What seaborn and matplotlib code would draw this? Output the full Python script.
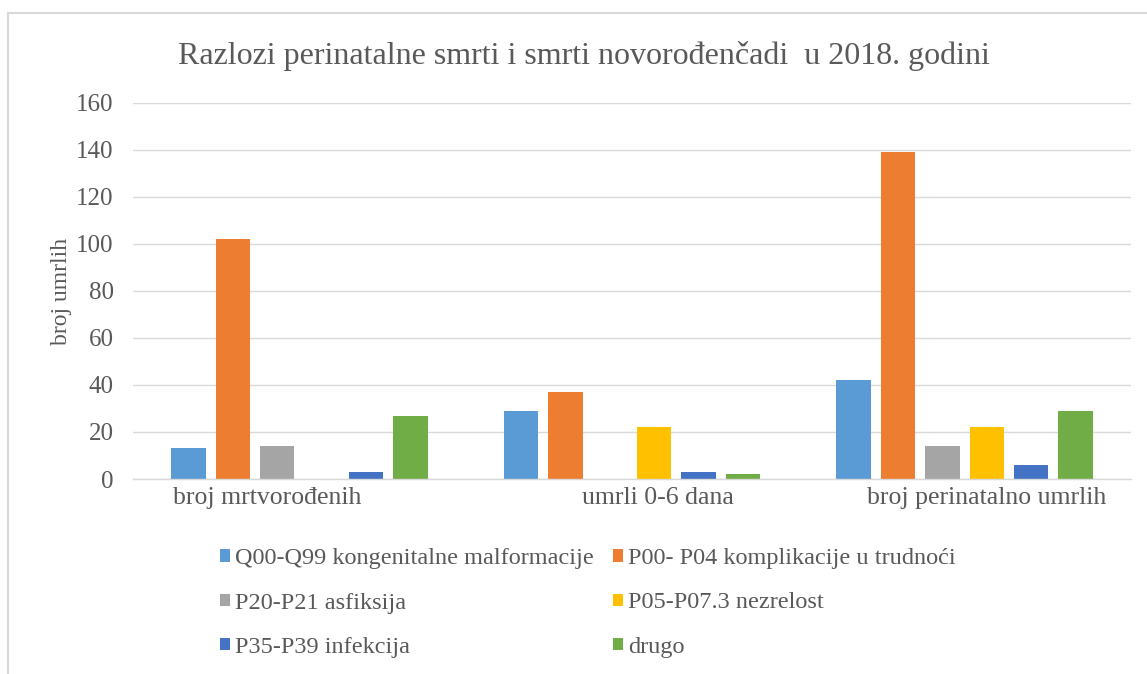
import matplotlib
matplotlib.use("Agg")
import matplotlib.pyplot as plt
import matplotlib.transforms as mtransforms
from matplotlib.patches import Rectangle
import seaborn as sns
import pandas as pd

categories = ["broj mrtvorođenih", "umrli 0-6 dana", "broj perinatalno umrlih"]
series = [
    "Q00-Q99 kongenitalne malformacije",
    "P00- P04 komplikacije u trudnoći",
    "P20-P21 asfiksija",
    "P05-P07.3 nezrelost",
    "P35-P39 infekcija",
    "drugo",
]
q00_q99 = [13, 29, 42]
p00_p04 = [102, 37, 139]
p20_p21 = [14, 0, 14]
p05_p07 = [0, 22, 22]
p35_p39 = [3, 3, 6]
drugo = [27, 2, 29]
colors = ["#5B9BD5", "#ED7D31", "#A5A5A5", "#FFC000", "#4472C4", "#70AD47"]
yticks = [0, 20, 40, 60, 80, 100, 120, 140, 160]

values = [q00_q99, p00_p04, p20_p21, p05_p07, p35_p39, drugo]
rows = []
for s, vals in zip(series, values):
    for c, v in zip(categories, vals):
        rows.append({"kategorija": c, "uzrok": s, "broj": v})
df = pd.DataFrame(rows)

sns.set_theme(style="white")
plt.rcParams["font.family"] = ["Liberation Serif", "DejaVu Serif"]
text_color = "#595959"
grid_color = "#D9D9D9"

fig = plt.figure(figsize=(11.47, 6.74), dpi=100)
ax = fig.add_axes([133 / 1147, 1 - 479 / 674, (1131 - 133) / 1147, (479 - 103) / 674])

sns.barplot(data=df, x="kategorija", y="broj", hue="uzrok", order=categories,
            hue_order=series, palette=colors, width=0.8, gap=0.22,
            linewidth=0, saturation=1, ax=ax, legend=True)

ax.set_ylim(0, 160)
ax.set_yticks(yticks)
ax.yaxis.grid(True, color=grid_color, linewidth=1.0)
ax.set_axisbelow(True)
for side in ["top", "right", "left"]:
    ax.spines[side].set_visible(False)
ax.spines["bottom"].set_color(grid_color)
ax.spines["bottom"].set_linewidth(1.0)
ax.tick_params(axis="both", length=0, colors=text_color)
ax.tick_params(axis="y", pad=14, labelsize=18)
ax.tick_params(axis="x", pad=6, labelsize=18.5)
ax.set_xlabel("")
ax.set_ylabel("broj umrlih", fontsize=17, color=text_color, labelpad=3)

# shift category labels as in the reference
offsets = [-0.32, 0.26, 0.22]
for lab, dx in zip(ax.get_xticklabels(), offsets):
    lab.set_transform(lab.get_transform() + mtransforms.ScaledTranslation(dx, 0, fig.dpi_scale_trans))

fig.suptitle("Razlozi perinatalne smrti i smrti novorođenčadi  u 2018. godini",
             x=584 / 1147, y=1 - 56 / 674, va="center", fontsize=23, color=text_color)

handles, labels = ax.get_legend_handles_labels()
ax.get_legend().remove()
order = [0, 2, 4, 1, 3, 5]
leg = fig.legend([handles[i] for i in order], [labels[i] for i in order],
                 loc="center", bbox_to_anchor=(588 / 1147, 1 - 603 / 674), ncol=2,
                 frameon=False, fontsize=17.5, handlelength=0.42, handleheight=0.42,
                 handletextpad=0.2, columnspacing=0.8, labelspacing=0.95)
for t in leg.get_texts():
    t.set_color(text_color)

fig.add_artist(Rectangle((8 / 1147, -0.1), 1.2, 1.1 - 13 / 674, transform=fig.transFigure,
                         fill=False, edgecolor=grid_color, linewidth=1.5))

fig.savefig("out.png", dpi=100)
